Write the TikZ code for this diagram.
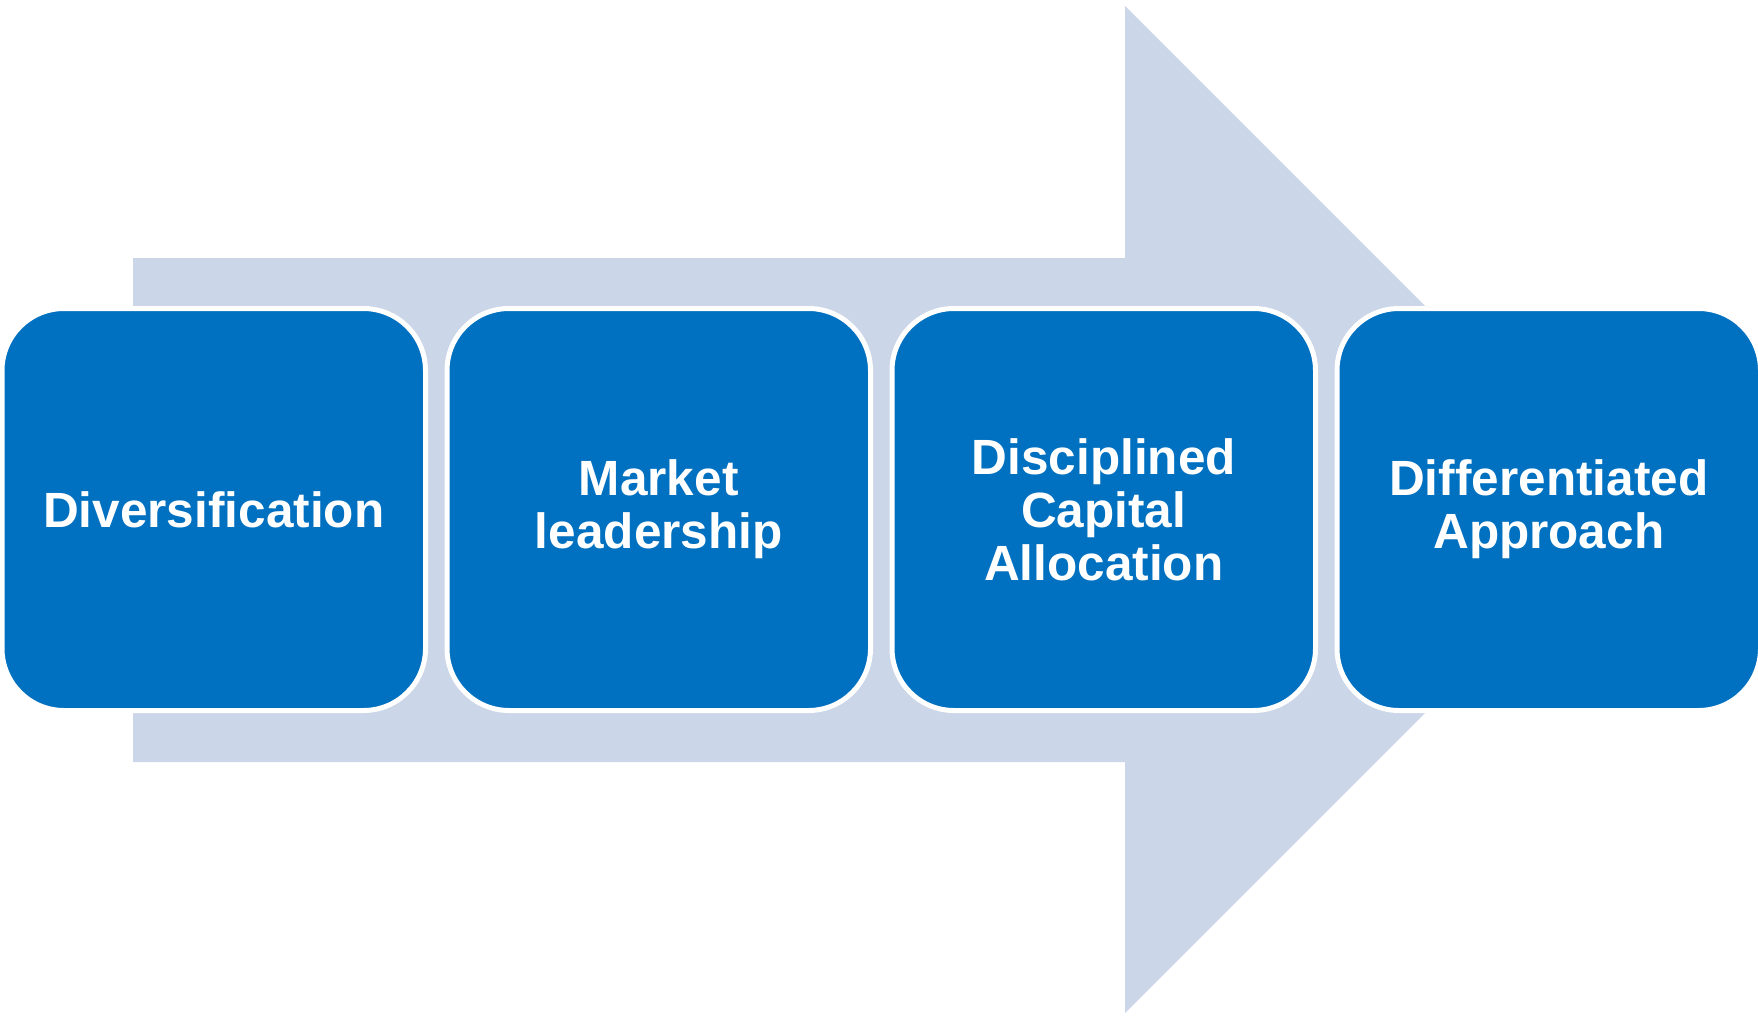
\documentclass[tikz,border=0pt]{standalone}
\usepackage{fontspec}
\setmainfont{Liberation Sans}
\begin{document}
\begin{tikzpicture}[x=1pt,y=-1pt,
  arrowfill/.style={fill=arrowblue, draw=none},
  pillar/.style={fill=boxblue, draw=white, line width=5pt, rounded corners=62pt},
  label/.style={text=white, font=\fontsize{49.5}{53}\selectfont\bfseries, align=center}]
\definecolor{boxblue}{HTML}{0070C0}
\definecolor{arrowblue}{HTML}{CBD6E8}
\useasboundingbox (0,0) rectangle (1758,1017);
% broad arrow behind the boxes
\fill[arrowfill] (133,258) -- (1125,258) -- (1125,6) -- (1628.5,509.5)
  -- (1125,1013) -- (1125,762) -- (133,762) -- cycle;
% four boxes along the arrow
\foreach \i/\x in {1/4.5, 2/449.5, 3/894.5, 4/1339.5} {
  \draw[pillar] (\x-2.5,308.5) rectangle ++(423.5,402);
  \coordinate (c\i) at (\x+209.25,509.5);
}
\node[label] (n1) at (c1) {Diversification};
\node[label] (n2) at (c2) {Market\\leadership};
\node[label] (n3) at (c3) {Disciplined\\Capital\\Allocation};
\node[label] (n4) at (c4) {Differentiated\\Approach};
\end{tikzpicture}
\end{document}
